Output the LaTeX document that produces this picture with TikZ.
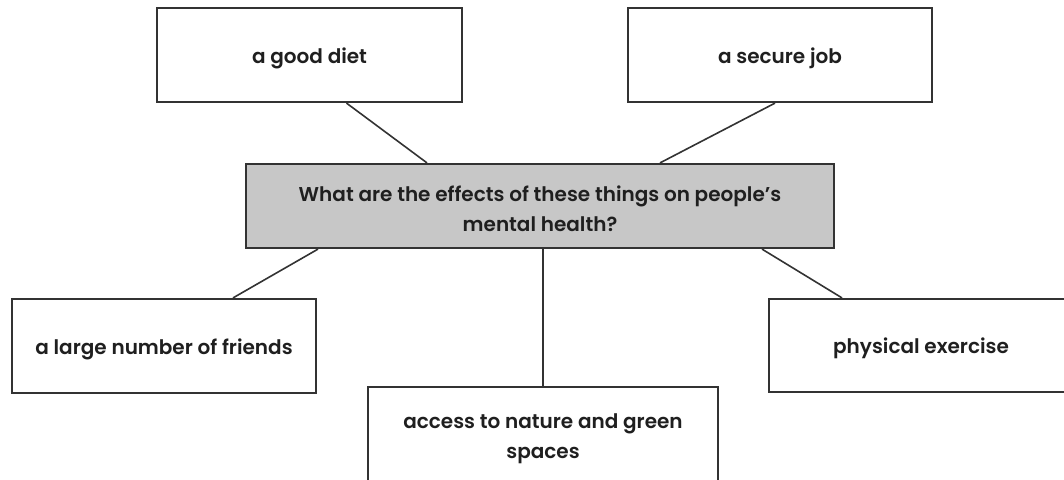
\documentclass[tikz,border=0pt]{standalone}
\usepackage{fontspec}
\setmainfont{Poppins}[UprightFont={* SemiBold}]
\begin{document}
\begin{tikzpicture}[x=1pt,y=-1pt,
  boxtext/.style={font=\fontsize{20}{30}\selectfont, text=black!88, align=center, yshift=-3pt},
  topicbox/.style={draw=black!80, line width=2.2pt, fill=white, inner sep=0pt,
    minimum width=304pt, minimum height=94pt, label={[boxtext]center:{#1}}},
  hubbox/.style={topicbox={#1}, fill=black!22, minimum width=588pt, minimum height=84pt},
  link/.style={draw=black!80, line width=1.6pt}]
\useasboundingbox (0,0) rectangle (1064,479);
\clip (0,0) rectangle (1064,479);
% central question
\node[hubbox={What are the effects of these things on people’s\\mental health?}] (hub) at (540,206) {};
% surrounding topics
\node[topicbox={a good diet}, minimum width=305pt] (diet) at (309.5,55) {};
\node[topicbox={a secure job}] (job) at (780,55) {};
\node[topicbox={a large number of friends}] (friends) at (164,346) {};
\node[topicbox={physical exercise}, minimum height=93pt] (exercise) at (921,345.5) {};
\node[topicbox={access to nature and green\\spaces}, minimum width=350pt, minimum height=98pt] (nature) at (543,436) {};
% connectors
\draw[link] ([xshift=37pt]diet.south) -- ([xshift=-113pt]hub.north);
\draw[link] ([xshift=-5pt]job.south) -- ([xshift=120pt]hub.north);
\draw[link] ([xshift=69pt]friends.north) -- ([xshift=-222pt]hub.south);
\draw[link] ([xshift=-79pt]exercise.north) -- ([xshift=222pt]hub.south);
\draw[link] (nature.north) -- (nature.north |- hub.south);
\end{tikzpicture}
\end{document}
